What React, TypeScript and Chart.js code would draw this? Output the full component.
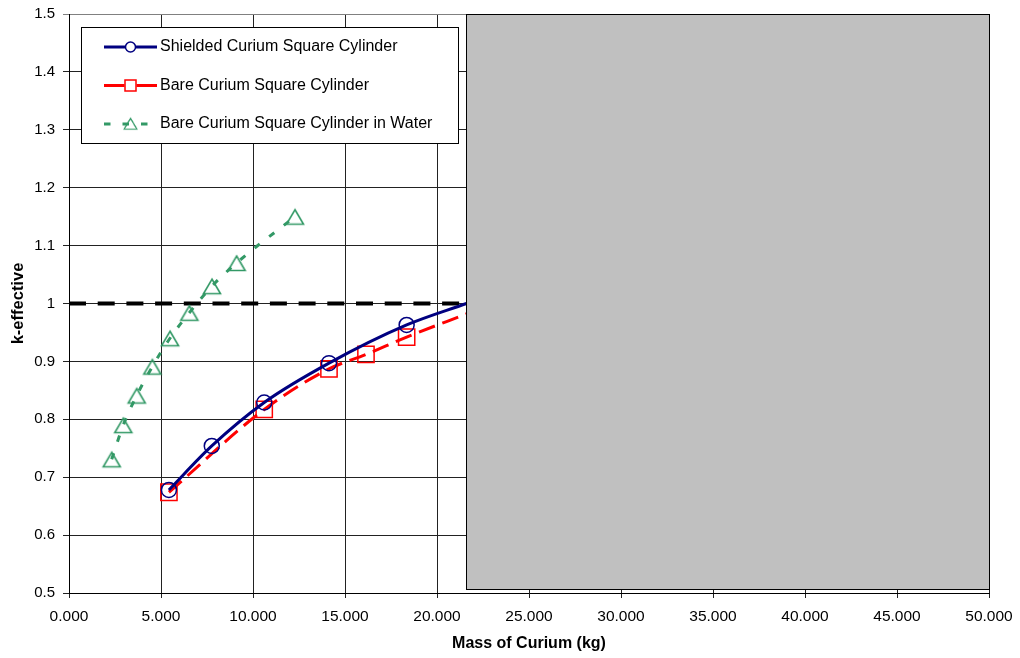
import React, { useEffect, useRef } from "react";
import { Chart, registerables } from "chart.js";

Chart.register(...registerables);

// Shielded curium square cylinder: mass (kg) vs k-effective
const shieldedMass = [5.43, 7.76, 10.61, 14.13, 18.35];
const shieldedK = [0.678, 0.754, 0.829, 0.897, 0.963];
// fitted curve continues up to the shaded region
const shieldedCurveEndMass = 21.6;
const shieldedCurveEndK = 1.0;

// Bare curium square cylinder
const bareMass = [5.43, 10.61, 14.13, 16.14, 18.35];
const bareK = [0.674, 0.817, 0.887, 0.912, 0.942];
const bareCurveEndMass = 21.6;
const bareCurveEndK = 0.982;

// Bare curium square cylinder in water
const waterMass = [2.32, 2.95, 3.68, 4.53, 5.49, 6.54, 7.77, 9.11, 12.28];
const waterK = [0.731, 0.79, 0.841, 0.891, 0.94, 0.984, 1.03, 1.07, 1.15];

// critical limit
const criticalK = 1;

// axis ticks
const massTicks = [0, 5, 10, 15, 20, 25, 30, 35, 40, 45, 50];
const massTickLabels = ["0.000", "5.000", "10.000", "15.000", "20.000", "25.000", "30.000", "35.000", "40.000", "45.000", "50.000"];
const kTicks = [0.5, 0.6, 0.7, 0.8, 0.9, 1.0, 1.1, 1.2, 1.3, 1.4, 1.5];
const kTickLabels = ["0.5", "0.6", "0.7", "0.8", "0.9", "1", "1.1", "1.2", "1.3", "1.4", "1.5"];

// shaded block over the upper mass range
const shadeMassRange = [21.6, 50];
const shadeKRange = [0.507, 1.5];

const seriesLabels = [
  "Shielded Curium Square Cylinder",
  "Bare Curium Square Cylinder",
  "Bare Curium Square Cylinder in Water",
];

const NAVY = "#000080";
const RED = "#FF0000";
const GREEN = "#339966";
const GRID = "#222222";
const FONT = "'Liberation Sans', Arial, Helvetica, sans-serif";

const RED_DASH = [17, 8];
const GREEN_DASH = [6.5, 12];
const CRIT_DASH = [17, 11.7];

function toPoints(xs: number[], ys: number[]) {
  return xs.map((x, i) => ({ x, y: ys[i] }));
}

function makeTriangle(): HTMLCanvasElement {
  const c = document.createElement("canvas");
  c.width = 24;
  c.height = 24;
  const g = c.getContext("2d")!;
  g.strokeStyle = GREEN;
  g.lineWidth = 1.6;
  g.beginPath();
  g.moveTo(12, 12 - 7);
  g.lineTo(12 + 8.5, 12 + 7.5);
  g.lineTo(12 - 8.5, 12 + 7.5);
  g.closePath();
  g.stroke();
  return c;
}

const shadePlugin = {
  id: "shadeBlock",
  afterDatasetsDraw(chart: any) {
    const { ctx, scales } = chart;
    const x = scales.x;
    const y = scales.y;
    const l = Math.round(x.getPixelForValue(shadeMassRange[0])) + 0.5;
    const r = Math.round(x.getPixelForValue(shadeMassRange[1])) + 0.5;
    const t = Math.round(y.getPixelForValue(shadeKRange[1])) + 0.5;
    const b = Math.round(y.getPixelForValue(shadeKRange[0])) + 0.5;
    ctx.save();
    ctx.fillStyle = "#C0C0C0";
    ctx.fillRect(l, t, r - l, b - t);
    ctx.strokeStyle = "#000000";
    ctx.lineWidth = 1;
    ctx.strokeRect(l, t, r - l, b - t);
    ctx.restore();
  },
};

function makeLegendPlugin(triangle: HTMLCanvasElement) {
  return {
    id: "boxLegend",
    afterDraw(chart: any) {
      const { ctx, chartArea } = chart;
      const bx = chartArea.left + 12.5;
      const by = chartArea.top + 13.5;
      const bw = 377;
      const bh = 116;
      ctx.save();
      ctx.fillStyle = "#FFFFFF";
      ctx.fillRect(bx, by, bw, bh);
      ctx.strokeStyle = "#000000";
      ctx.lineWidth = 1;
      ctx.strokeRect(bx, by, bw, bh);

      const x0 = bx + 22.5;
      const x1 = bx + 75.5;
      const mx = (x0 + x1) / 2;
      const rows = [by + 19.5, by + 58, by + 96.5];

      // shielded: solid navy with circle
      ctx.strokeStyle = NAVY;
      ctx.lineWidth = 3;
      ctx.beginPath();
      ctx.moveTo(x0, rows[0]);
      ctx.lineTo(x1, rows[0]);
      ctx.stroke();
      ctx.lineWidth = 1.5;
      ctx.beginPath();
      ctx.arc(mx, rows[0], 5, 0, Math.PI * 2);
      ctx.fillStyle = "#FFFFFF";
      ctx.fill();
      ctx.stroke();

      // bare: red segments with square
      ctx.strokeStyle = RED;
      ctx.lineWidth = 3;
      ctx.beginPath();
      ctx.moveTo(x0, rows[1]);
      ctx.lineTo(mx - 6, rows[1]);
      ctx.moveTo(mx + 6, rows[1]);
      ctx.lineTo(x1, rows[1]);
      ctx.stroke();
      ctx.lineWidth = 1.5;
      ctx.fillStyle = "#FFFFFF";
      ctx.fillRect(mx - 5.5, rows[1] - 5.5, 11, 11);
      ctx.strokeRect(mx - 5.5, rows[1] - 5.5, 11, 11);

      // water: green dashes with triangle
      ctx.strokeStyle = GREEN;
      ctx.lineWidth = 3;
      ctx.setLineDash(GREEN_DASH);
      ctx.beginPath();
      ctx.moveTo(x0, rows[2]);
      ctx.lineTo(x1, rows[2]);
      ctx.stroke();
      ctx.setLineDash([]);
      ctx.drawImage(triangle, mx - 9, rows[2] - 9.5, 18, 18);

      ctx.fillStyle = "#000000";
      ctx.font = `16px ${FONT}`;
      ctx.textBaseline = "middle";
      ctx.textAlign = "left";
      seriesLabels.forEach((s, i) => ctx.fillText(s, bx + 78.5, rows[i]));
      ctx.restore();
    },
  };
}

export default function App() {
  const canvasRef = useRef<HTMLCanvasElement | null>(null);

  useEffect(() => {
    const canvas = canvasRef.current;
    if (!canvas) return;
    const triangle = makeTriangle();
    const legendTriangle = makeTriangle();

    const chart = new Chart(canvas, {
      type: "scatter",
      data: {
        datasets: [
          {
            label: seriesLabels[0],
            data: [...toPoints(shieldedMass, shieldedK), { x: shieldedCurveEndMass, y: shieldedCurveEndK }],
            showLine: true,
            borderColor: NAVY,
            borderWidth: 3,
            cubicInterpolationMode: "monotone",
            pointStyle: "circle",
            pointRadius: (c: any) => (c.dataIndex < shieldedMass.length ? 7.5 : 0),
            pointBorderColor: NAVY,
            pointBorderWidth: 1.5,
            pointBackgroundColor: "rgba(0,0,0,0)",
          },
          {
            label: seriesLabels[1],
            data: [...toPoints(bareMass, bareK), { x: bareCurveEndMass, y: bareCurveEndK }],
            showLine: true,
            borderColor: RED,
            borderWidth: 3,
            borderDash: RED_DASH,
            cubicInterpolationMode: "monotone",
            pointStyle: "rect",
            pointRadius: (c: any) => (c.dataIndex < bareMass.length ? 11.5 : 0),
            pointBorderColor: RED,
            pointBorderWidth: 1.5,
            pointBackgroundColor: "rgba(0,0,0,0)",
          },
          {
            label: seriesLabels[2],
            data: toPoints(waterMass, waterK),
            showLine: true,
            borderColor: GREEN,
            borderWidth: 3,
            borderDash: GREEN_DASH,
            cubicInterpolationMode: "monotone",
            pointStyle: triangle,
            pointRadius: 10,
            pointBorderColor: GREEN,
            pointBackgroundColor: "rgba(0,0,0,0)",
          },
          {
            label: "k = 1",
            data: [
              { x: massTicks[0], y: criticalK },
              { x: massTicks[massTicks.length - 1], y: criticalK },
            ],
            showLine: true,
            borderColor: "#000000",
            borderWidth: 4,
            borderDash: CRIT_DASH,
            pointRadius: 0,
          },
        ],
      },
      options: {
        responsive: false,
        animation: false,
        events: [],
        layout: { padding: { left: 0, top: 14, right: 31, bottom: 0 } },
        plugins: {
          legend: { display: false },
          tooltip: { enabled: false },
        },
        scales: {
          x: {
            type: "linear",
            min: 0,
            max: 50,
            afterFit: (s: any) => {
              s.height = 65;
              s.paddingLeft = 0;
              s.paddingRight = 0;
            },
            afterBuildTicks: (s: any) => {
              s.ticks = massTicks.map((v) => ({ value: v }));
            },
            ticks: {
              color: "#000000",
              font: { family: FONT, size: 15.5 },
              padding: 9,
              maxRotation: 0,
              autoSkip: false,
              callback: (v: any) => massTickLabels[massTicks.indexOf(Number(v))] ?? "",
            },
            grid: { color: GRID, lineWidth: 1, tickLength: 5 },
            border: { color: "#000000", width: 1 },
            title: {
              display: true,
              text: "Mass of Curium (kg)",
              color: "#000000",
              font: { family: FONT, size: 16, weight: "bold" },
              padding: { top: 0, bottom: 4.4 },
            },
          },
          y: {
            type: "linear",
            min: 0.5,
            max: 1.5,
            afterFit: (s: any) => {
              s.width = 69;
              s.paddingTop = 0;
              s.paddingBottom = 0;
            },
            afterBuildTicks: (s: any) => {
              s.ticks = kTicks.map((v) => ({ value: v }));
            },
            ticks: {
              color: "#000000",
              font: { family: FONT, size: 15 },
              padding: 8,
              autoSkip: false,
              callback: (v: any) => {
                const i = kTicks.findIndex((t) => Math.abs(t - Number(v)) < 1e-6);
                return i >= 0 ? kTickLabels[i] : "";
              },
            },
            grid: {
              color: (c: any) => (c.tick && Math.abs(c.tick.value - 1.5) < 1e-6 ? "#808080" : GRID),
              lineWidth: 1,
              tickLength: 6,
            },
            border: { color: "#000000", width: 1 },
            title: {
              display: true,
              text: "k-effective",
              color: "#000000",
              font: { family: FONT, size: 16.5, weight: "bold" },
              padding: { top: 9, bottom: 0 },
            },
          },
        },
      },
      plugins: [shadePlugin, makeLegendPlugin(legendTriangle)],
    } as any);

    return () => chart.destroy();
  }, []);

  return (
    <div style={{ position: "absolute", left: 0, top: 0, width: 1020, height: 658, background: "#FFFFFF" }}>
      <canvas ref={canvasRef} width={1020} height={658} style={{ display: "block", width: 1020, height: 658 }} />
    </div>
  );
}
